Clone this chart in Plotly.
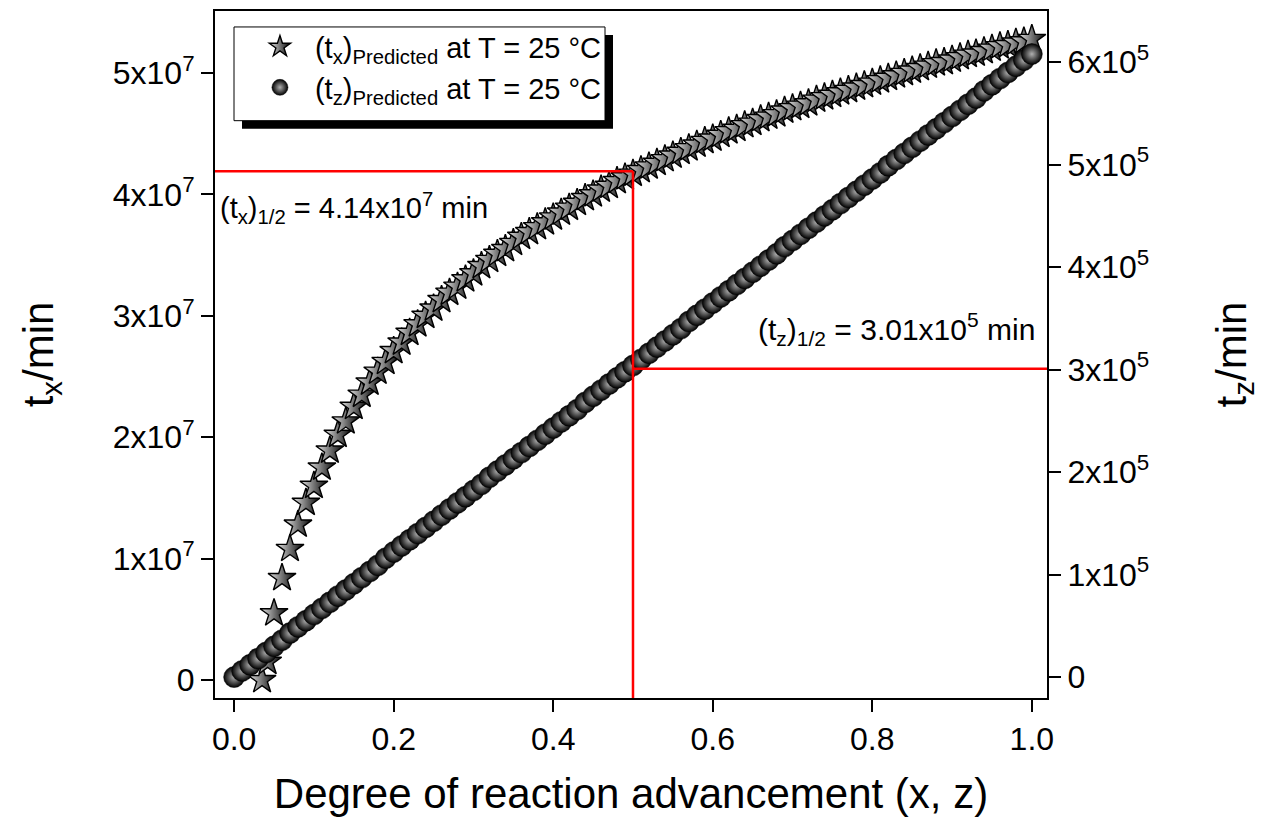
import plotly.graph_objects as go

# ---- data ----
x_tx = [0.035, 0.042, 0.05, 0.06, 0.07, 0.08, 0.09,
        0.10, 0.11, 0.12, 0.13, 0.14, 0.15, 0.16, 0.17, 0.18, 0.19,
        0.20, 0.21, 0.22, 0.23, 0.24, 0.25, 0.26, 0.27, 0.28, 0.29,
        0.30, 0.31, 0.32, 0.33, 0.34, 0.35, 0.36, 0.37, 0.38, 0.39,
        0.40, 0.41, 0.42, 0.43, 0.44, 0.45, 0.46, 0.47, 0.48, 0.49,
        0.50, 0.51, 0.52, 0.53, 0.54, 0.55, 0.56, 0.57, 0.58, 0.59,
        0.60, 0.61, 0.62, 0.63, 0.64, 0.65, 0.66, 0.67, 0.68, 0.69,
        0.70, 0.71, 0.72, 0.73, 0.74, 0.75, 0.76, 0.77, 0.78, 0.79,
        0.80, 0.81, 0.82, 0.83, 0.84, 0.85, 0.86, 0.87, 0.88, 0.89,
        0.90, 0.91, 0.92, 0.93, 0.94, 0.95, 0.96, 0.97, 0.98, 0.99, 1.00]
# t_x in units of 1e7 min
tx_e7 = [0.00, 0.15, 0.55, 0.84, 1.08, 1.28, 1.46,
         1.60, 1.75, 1.89, 2.02, 2.13, 2.25, 2.35, 2.45, 2.54, 2.62,
         2.71, 2.78, 2.86, 2.93, 3.00, 3.06, 3.13, 3.19, 3.24, 3.30,
         3.35, 3.41, 3.46, 3.51, 3.55, 3.60, 3.65, 3.69, 3.73, 3.77,
         3.81, 3.85, 3.89, 3.93, 3.97, 4.00, 4.04, 4.07, 4.11, 4.14,
         4.17, 4.20, 4.23, 4.26, 4.29, 4.32, 4.35, 4.38, 4.41, 4.44,
         4.46, 4.49, 4.52, 4.54, 4.57, 4.59, 4.62, 4.64, 4.66, 4.69,
         4.71, 4.73, 4.75, 4.78, 4.80, 4.82, 4.84, 4.86, 4.88, 4.90,
         4.92, 4.94, 4.96, 4.98, 5.00, 5.02, 5.04, 5.06, 5.08, 5.09,
         5.11, 5.13, 5.15, 5.16, 5.18, 5.20, 5.22, 5.23, 5.25, 5.26, 5.28]

x_tz = [0.00, 0.01, 0.02, 0.03, 0.04, 0.05, 0.06, 0.07, 0.08, 0.09,
        0.10, 0.11, 0.12, 0.13, 0.14, 0.15, 0.16, 0.17, 0.18, 0.19,
        0.20, 0.21, 0.22, 0.23, 0.24, 0.25, 0.26, 0.27, 0.28, 0.29,
        0.30, 0.31, 0.32, 0.33, 0.34, 0.35, 0.36, 0.37, 0.38, 0.39,
        0.40, 0.41, 0.42, 0.43, 0.44, 0.45, 0.46, 0.47, 0.48, 0.49,
        0.50, 0.51, 0.52, 0.53, 0.54, 0.55, 0.56, 0.57, 0.58, 0.59,
        0.60, 0.61, 0.62, 0.63, 0.64, 0.65, 0.66, 0.67, 0.68, 0.69,
        0.70, 0.71, 0.72, 0.73, 0.74, 0.75, 0.76, 0.77, 0.78, 0.79,
        0.80, 0.81, 0.82, 0.83, 0.84, 0.85, 0.86, 0.87, 0.88, 0.89,
        0.90, 0.91, 0.92, 0.93, 0.94, 0.95, 0.96, 0.97, 0.98, 0.99, 1.00]
# t_z in units of 1e5 min
tz_e5 = [0.00, 0.06, 0.12, 0.18, 0.24, 0.30, 0.36, 0.43, 0.49, 0.55,
         0.61, 0.67, 0.73, 0.79, 0.85, 0.91, 0.97, 1.03, 1.09, 1.16,
         1.22, 1.28, 1.34, 1.40, 1.46, 1.52, 1.58, 1.64, 1.70, 1.76,
         1.82, 1.88, 1.95, 2.01, 2.07, 2.13, 2.19, 2.25, 2.31, 2.37,
         2.43, 2.49, 2.55, 2.61, 2.68, 2.74, 2.80, 2.86, 2.92, 2.98,
         3.04, 3.10, 3.16, 3.22, 3.28, 3.34, 3.40, 3.47, 3.53, 3.59,
         3.65, 3.71, 3.77, 3.83, 3.89, 3.95, 4.01, 4.07, 4.13, 4.20,
         4.26, 4.32, 4.38, 4.44, 4.50, 4.56, 4.62, 4.68, 4.74, 4.80,
         4.86, 4.92, 4.99, 5.05, 5.11, 5.17, 5.23, 5.29, 5.35, 5.41,
         5.47, 5.53, 5.59, 5.65, 5.72, 5.78, 5.84, 5.90, 5.96, 6.02, 6.08]

tx = [v * 1e7 for v in tx_e7]
tz = [v * 1e5 for v in tz_e5]

x_half = 0.5
tx_half = 4.19e7
tz_half = 3.01e5

x_ticks = [0.0, 0.2, 0.4, 0.6, 0.8, 1.0]
y1_tickvals = [0, 1e7, 2e7, 3e7, 4e7, 5e7]
y1_ticktext = ["0", "1x10<sup>7</sup>", "2x10<sup>7</sup>", "3x10<sup>7</sup>",
               "4x10<sup>7</sup>", "5x10<sup>7</sup>"]
y2_tickvals = [0, 1e5, 2e5, 3e5, 4e5, 5e5, 6e5]
y2_ticktext = ["0", "1x10<sup>5</sup>", "2x10<sup>5</sup>", "3x10<sup>5</sup>",
               "4x10<sup>5</sup>", "5x10<sup>5</sup>", "6x10<sup>5</sup>"]

x_range = [-0.024, 1.019]
y1_range = [-0.148e7, 5.51e7]
y2_range = [-0.204e5, 6.50e5]

FONT = "Liberation Sans, Arial, sans-serif"

fig = go.Figure()

fig.add_trace(go.Scatter(
    x=x_tx, y=tx, mode="markers", yaxis="y",
    name="(t<sub>x</sub>)<sub>Predicted</sub> at T = 25 °C",
    marker=dict(symbol="star", size=21, color="#e8e8e8",
                gradient=dict(type="horizontal", color="#000000"),
                line=dict(color="black", width=1.4)),
))
fig.add_trace(go.Scatter(
    x=x_tz, y=tz, mode="markers", yaxis="y2",
    name="(t<sub>z</sub>)<sub>Predicted</sub> at T = 25 °C",
    marker=dict(symbol="circle", size=21, color="#000000",
                gradient=dict(type="radial", color="#b0b0b0"),
                line=dict(color="black", width=0.5)),
))

axis_common = dict(
    showline=True, linecolor="black", linewidth=2,
    ticks="outside", ticklen=12, tickwidth=2, tickcolor="black",
    showgrid=False, zeroline=False,
    tickfont=dict(family=FONT, size=32, color="black"),
)

TITLE_SIZE = 42

fig.update_layout(
    width=1270, height=823,
    margin=dict(l=215, r=223, t=9, b=125),
    paper_bgcolor="white", plot_bgcolor="white",
    font=dict(family=FONT, color="black"),
    xaxis=dict(range=x_range, tickvals=x_ticks, tickformat=".1f", mirror=True,
               title=dict(text="Degree of reaction advancement (x, z)",
                          font=dict(family=FONT, size=TITLE_SIZE, color="black"), standoff=22),
               **axis_common),
    yaxis=dict(range=y1_range, tickvals=y1_tickvals, ticktext=y1_ticktext,
               title=dict(text="t<sub>x</sub>/min",
                          font=dict(family=FONT, size=TITLE_SIZE, color="black"), standoff=46),
               **axis_common),
    yaxis2=dict(range=y2_range, tickvals=y2_tickvals, ticktext=y2_ticktext,
                overlaying="y", side="right",
                title=dict(text="t<sub>z</sub>/min",
                           font=dict(family=FONT, size=TITLE_SIZE, color="black"), standoff=68),
                **axis_common),
    showlegend=True,
    legend=dict(x=0.036, y=0.985, xanchor="left", yanchor="top",
                bgcolor="rgba(0,0,0,0)", borderwidth=0,
                font=dict(family=FONT, size=29, color="black"),
                itemwidth=60),
)

def px2paper_x(p):
    return (p - 215) / 832.0

def px2paper_y(p):
    return (698 - p) / 689.0

# legend shadow and box
fig.add_shape(type="rect", xref="paper", yref="paper",
              x0=px2paper_x(242), x1=px2paper_x(613), y0=px2paper_y(127), y1=px2paper_y(33),
              fillcolor="black", line=dict(color="black", width=0), layer="above")
fig.add_shape(type="rect", xref="paper", yref="paper",
              x0=px2paper_x(234), x1=px2paper_x(605), y0=px2paper_y(119), y1=px2paper_y(25),
              fillcolor="white", line=dict(color="black", width=1), layer="above")

# red guide lines
fig.add_shape(type="line", xref="x", yref="y", x0=x_range[0], x1=x_half,
              y0=tx_half, y1=tx_half, line=dict(color="red", width=2.5), layer="above")
fig.add_shape(type="line", xref="x", yref="y", x0=x_half, x1=x_half,
              y0=y1_range[0], y1=tx_half, line=dict(color="red", width=2.5), layer="above")
fig.add_shape(type="line", xref="x", yref="y2", x0=x_half, x1=x_range[1],
              y0=tz_half, y1=tz_half, line=dict(color="red", width=2.5), layer="above")

fig.add_annotation(xref="paper", yref="paper", x=px2paper_x(218), y=px2paper_y(207),
                   xanchor="left", yanchor="middle", showarrow=False,
                   text="(t<sub>x</sub>)<sub>1/2</sub> = 4.14x10<sup>7</sup> min",
                   font=dict(family=FONT, size=29, color="black"))
fig.add_annotation(xref="paper", yref="paper", x=px2paper_x(1037), y=px2paper_y(328),
                   xanchor="right", yanchor="middle", showarrow=False,
                   text="(t<sub>z</sub>)<sub>1/2</sub> = 3.01x10<sup>5</sup> min",
                   font=dict(family=FONT, size=30, color="black"))

fig.write_html("out.html")
